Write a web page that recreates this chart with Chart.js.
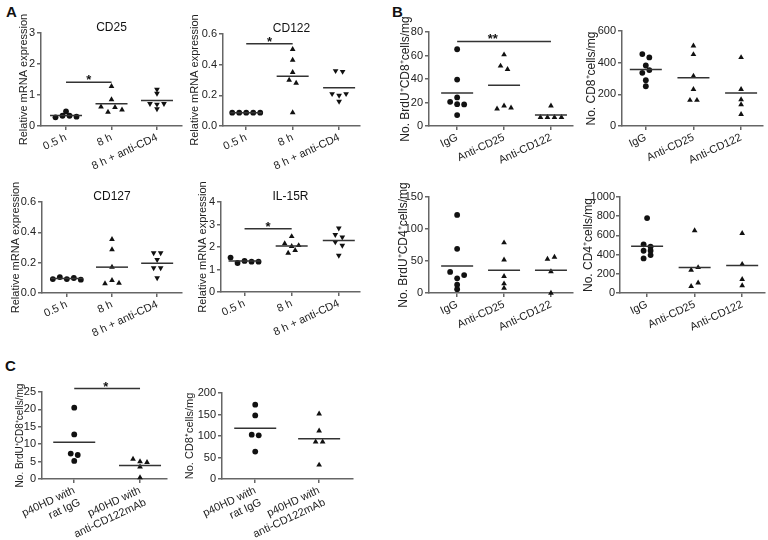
<!DOCTYPE html>
<html>
<head>
<meta charset="utf-8">
<script src="https://cdn.jsdelivr.net/npm/chart.js@4.4.0/dist/chart.umd.min.js"></script>
<style>
body { margin: 0; width: 768px; height: 540px; background: #fff; position: relative; overflow: hidden; font-family: "Liberation Sans", Arial, sans-serif; }
canvas { position: absolute; }
.lbl { position: absolute; font-weight: bold; font-size: 15px; color: #111; }
</style>
</head>
<body>
<div class="lbl" style="left:6px;top:3px">A</div>
<div class="lbl" style="left:392px;top:3px">B</div>
<div class="lbl" style="left:5px;top:357px">C</div>
<script>
// categories
const catsA = ['0.5 h', '8 h', '8 h + anti-CD4'];
const catsB = ['IgG', 'Anti-CD25', 'Anti-CD122'];
const catsC = [['p40HD with', 'rat IgG'], ['p40HD with', 'anti-CD122mAb']];

// values, one list per group (left to right)
const cd25 = [[0.28, 0.33, 0.47, 0.33, 0.30], [1.28, 0.85, 0.62, 0.45, 0.6, 0.52], [1.18, 1.05, 0.72, 0.7, 0.72, 0.55]];
const cd122 = [[0.087, 0.087, 0.087, 0.087, 0.087], [0.5, 0.43, 0.35, 0.30, 0.28, 0.087], [0.36, 0.355, 0.21, 0.2, 0.21, 0.16]];
const cd127 = [[0.092, 0.105, 0.092, 0.099, 0.088], [0.354, 0.286, 0.171, 0.062, 0.084, 0.066], [0.264, 0.264, 0.22, 0.165, 0.165, 0.1]];
const il15r = [[1.53, 1.29, 1.38, 1.35, 1.35], [2.47, 2.15, 2.03, 2.07, 1.73, 1.85], [2.84, 2.55, 2.44, 2.22, 2.07, 1.63]];
const brduCD8 = [[65.3, 39.5, 24.3, 20.6, 18.6, 18.4, 9.3], [60.7, 51.1, 48.3, 14.7, 17.2, 15.5], [17.2, 7.3, 7.3, 7.3, 7.3]];
const cd8 = [[454, 433, 382, 336, 353, 289, 251], [507, 452, 315, 232, 163, 163], [433, 232, 167, 135, 74]];
const brduCD4 = [[122, 69, 33, 23, 28, 13, 6], [78.6, 51.7, 25.9, 14.5, 7.8], [53, 56, 33.6, 0]];
const cd4 = [[780, 507, 483, 440, 440, 360, 395], [650, 238, 266, 70, 105], [622, 300, 143, 77]];
const cBrduCD8 = [[20.5, 12.8, 7.3, 6.9, 5.2], [5.7, 5.0, 4.8, 3.5, 0.4]];
const cCD8 = [[172.8, 147.9, 103, 101.5, 63.8], [151.8, 112, 86.4, 86.4, 32.7]];

// tick labels
const ticks3 = [0, 1, 2, 3];
const ticks06 = [0, 0.2, 0.4, 0.6];
const ticks4 = [0, 1, 2, 3, 4];
const ticks80 = [0, 20, 40, 60, 80];
const ticks600 = [0, 200, 400, 600];
const ticks150 = [0, 50, 100, 150];
const ticks1000 = [0, 200, 400, 600, 800, 1000];
const ticks25 = [0, 5, 10, 15, 20, 25];
const ticks200 = [0, 50, 100, 150, 200];

const mrna = 'Relative mRNA expression';
const FONT = '"Liberation Sans", Arial, sans-serif';
const AX = '#666';

const panels = [
  { title: 'CD25', cats: catsA, groups: cd25, yt: ticks3, ytitle: mrna, box: [41, 33, 182, 126], xr: [-0.55, 2.55], tx: 24, down: true },
  { title: 'CD122', cats: catsA, groups: cd122, yt: ticks06, dec: 1, ytitle: mrna, box: [223, 34, 360, 126], xr: [-0.5, 2.45], tx: 195, down: true },
  { title: 'CD127', cats: catsA, groups: cd127, yt: ticks06, dec: 1, ytitle: mrna, box: [42, 202, 182, 293], xr: [-0.55, 2.55], tx: 16, down: true },
  { title: 'IL-15R', cats: catsA, groups: il15r, yt: ticks4, ytitle: mrna, box: [221, 202, 360, 292], xr: [-0.5, 2.45], tx: 203, down: true },
  { cats: catsB, groups: brduCD8, yt: ticks80, ytitle: 'No. BrdU\u207ACD8\u207Acells/mg', tf: 12, box: [429, 32, 573, 126], xr: [-0.6, 2.47], tx: 406 },
  { cats: catsB, groups: cd8, yt: ticks600, ytitle: 'No. CD8\u207Acells/mg', tf: 12, box: [622, 31, 763, 126], xr: [-0.5, 2.46], tx: 592 },
  { cats: catsB, groups: brduCD4, yt: ticks150, ytitle: 'No. BrdU\u207ACD4\u207Acells/mg', tf: 12, box: [429, 197, 573, 293], xr: [-0.6, 2.47], tx: 404 },
  { cats: catsB, groups: cd4, yt: ticks1000, ytitle: 'No. CD4\u207Acells/mg', tf: 12, box: [620, 197, 765, 293], xr: [-0.57, 2.48], tx: 589, tp: 1 },
  { cats: catsC, groups: cBrduCD8, yt: ticks25, ytitle: 'No. BrdU\u207ACD8\u207Acells/mg', tf: 10, box: [42, 392, 167, 479], xr: [-0.49, 1.41], tx: 20, half: 21 },
  { cats: catsC, groups: cCD8, yt: ticks200, ytitle: 'No. CD8\u207Acells/mg', tf: 11, box: [222, 393, 353, 479], xr: [-0.52, 1.53], tx: 190, half: 21 }
];
// significance bars: [panel, from group, to group, height, label, label position along bar]
const sigBars = [[0, 0, 1, 1.41, '*', 0.5], [1, 0, 1, 0.537, '*', 0.5], [3, 0, 1, 2.81, '*', 0.5], [4, 0, 2, 72, '**', 0.38], [8, 0, 1, 26, '*', 0.48]];
sigBars.forEach(s => { panels[s[0]].sig = s.slice(1); });

// spread points that sit at about the same height side by side
function spread(vals, thr, dx) {
  const idx = vals.map((v, i) => i).sort((a, b) => vals[b] - vals[a]);
  const rows = [];
  let cur = [idx[0]];
  for (let k = 1; k < idx.length; k++) {
    if (vals[cur[cur.length - 1]] - vals[idx[k]] < thr) cur.push(idx[k]);
    else { rows.push(cur); cur = [idx[k]]; }
  }
  rows.push(cur);
  const off = new Array(vals.length).fill(0);
  rows.forEach(r => {
    r.sort((a, b) => a - b);
    r.forEach((ii, j) => { off[ii] = (j - (r.length - 1) / 2) * dx; });
  });
  return off;
}

function makeExtras(p) {
  return {
    id: 'extras',
    afterDatasetsDraw(chart) {
      const ctx = chart.ctx, a = chart.chartArea;
      const xs = chart.scales.x, ys = chart.scales.y;
      ctx.save();
      ctx.fillStyle = '#111';
      // y axis title
      ctx.save();
      ctx.translate(p.tx - p.cl, (a.top + a.bottom) / 2);
      ctx.rotate(-Math.PI / 2);
      ctx.font = (p.tf || 11) + 'px ' + FONT;
      ctx.textAlign = 'center';
      ctx.textBaseline = 'middle';
      ctx.fillStyle = '#222';
      ctx.fillText(p.ytitle, 0, 0);
      ctx.restore();
      if (p.title) {
        ctx.font = '12px ' + FONT;
        ctx.textAlign = 'center';
        ctx.textBaseline = 'alphabetic';
        ctx.fillText(p.title, (a.left + a.right) / 2, a.top - 2);
      }
      if (p.sig) {
        const [g0, g1, v, s, f] = p.sig;
        const y = ys.getPixelForValue(v);
        const x0 = xs.getPixelForValue(g0), x1 = xs.getPixelForValue(g1);
        ctx.strokeStyle = '#333';
        ctx.lineWidth = 1.5;
        ctx.beginPath(); ctx.moveTo(x0, y); ctx.lineTo(x1, y); ctx.stroke();
        ctx.font = 'bold 13px ' + FONT;
        ctx.textAlign = 'center';
        ctx.fillText(s, x0 + (x1 - x0) * f, y + 2);
      }
      ctx.restore();
    }
  };
}

function makePanel(p) {
  const [l, t, r, b] = p.box;
  const padTop = 22, padRight = 6, xH = 62;
  const left = p.tx - 9;
  p.cl = left;
  const yW = l - left;
  const W = r + padRight - left;
  const H = (b - t) + padTop + xH;
  const c = document.createElement('canvas');
  c.width = W; c.height = H;
  c.style.left = left + 'px'; c.style.top = (t - padTop) + 'px';
  c.style.width = W + 'px'; c.style.height = H + 'px';
  document.body.appendChild(c);

  const yMax = p.yt[p.yt.length - 1];
  const dx = 7 * (p.xr[1] - p.xr[0]) / (r - l);
  const half = (p.half || 16) * (p.xr[1] - p.xr[0]) / (r - l);
  const datasets = [];
  p.groups.forEach((vals, g) => {
    const m = vals.reduce((s, v) => s + v, 0) / vals.length;
    datasets.push({
      type: 'line', data: [{ x: g - half, y: m }, { x: g + half, y: m }],
      borderColor: '#333', borderWidth: 1.5, pointRadius: 0, fill: false, clip: false
    });
    const off = spread(vals, yMax * 0.04, dx);
    datasets.push({
      type: 'scatter',
      data: vals.map((v, i) => ({ x: g + off[i], y: v })),
      pointStyle: g === 0 ? 'circle' : 'triangle',
      rotation: (p.down && g === 2) ? 180 : 0,
      pointRadius: g === 0 ? 2.9 : 3.3,
      backgroundColor: '#111', borderColor: '#111', borderWidth: 0,
      clip: false
    });
  });

  const tickFont = { family: FONT, size: 11 };
  new Chart(c, {
    data: { datasets },
    options: {
      responsive: false, animation: false, devicePixelRatio: 1,
      layout: { padding: { top: padTop, right: padRight, left: 0, bottom: 0 } },
      plugins: { legend: { display: false }, tooltip: { enabled: false } },
      scales: {
        x: {
          type: 'linear', min: p.xr[0], max: p.xr[1],
          afterFit: s => { s.height = xH; },
          afterBuildTicks: s => { s.ticks = p.cats.map((_, i) => ({ value: i })); },
          ticks: { callback: v => p.cats[Math.round(v)], minRotation: 25, maxRotation: 25, autoSkip: false, font: tickFont, color: '#222', padding: 1 },
          grid: { drawOnChartArea: false, drawTicks: true, tickLength: 4, color: AX, lineWidth: 1.5 },
          border: { color: AX, width: 1.5 }
        },
        y: {
          type: 'linear', min: 0, max: yMax,
          afterFit: s => { s.width = yW; },
          afterBuildTicks: s => { s.ticks = p.yt.map(v => ({ value: v })); },
          ticks: { callback: v => p.dec ? v.toFixed(p.dec) : String(v), font: tickFont, color: '#222', padding: p.tp || 2 },
          grid: { drawOnChartArea: false, drawTicks: true, tickLength: 4, color: AX, lineWidth: 1.5 },
          border: { color: AX, width: 1.5 }
        }
      }
    },
    plugins: [makeExtras(p)]
  });
}

panels.forEach(makePanel);
</script>
</body>
</html>
